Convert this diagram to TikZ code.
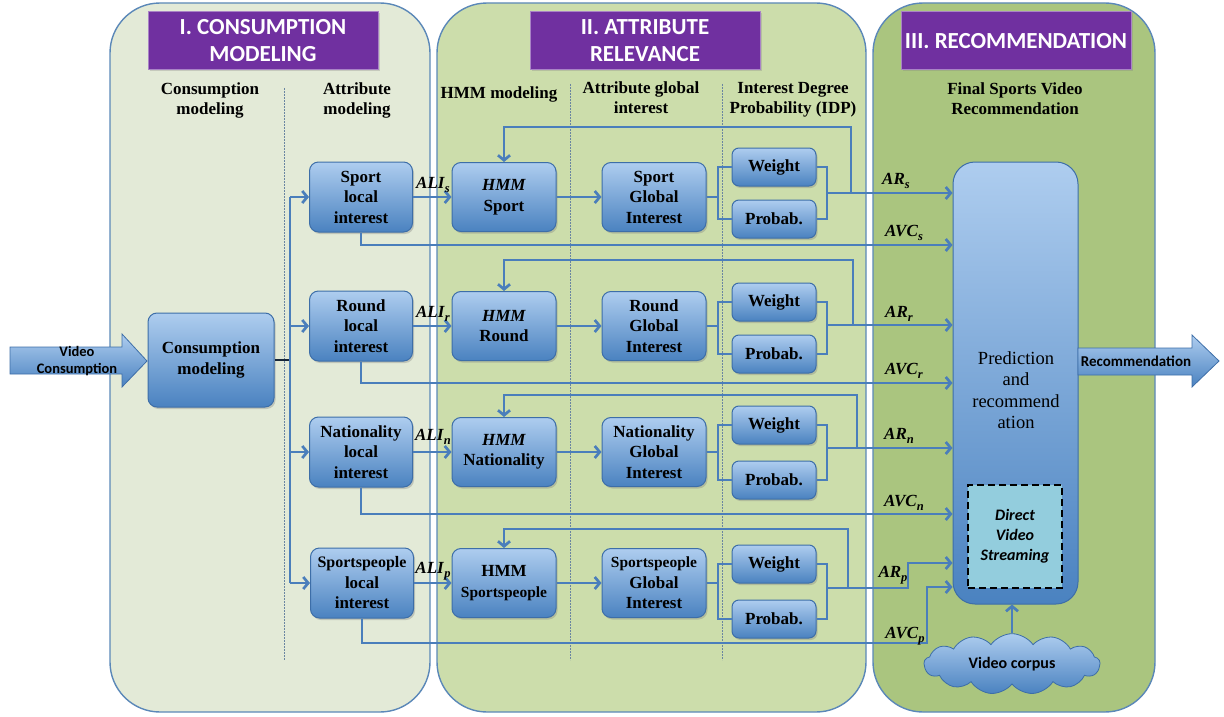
\documentclass[tikz,border=0pt]{standalone}
\usepackage{fontspec}
\setmainfont{Liberation Serif}
\newfontfamily\titlefont{Carlito}
\usetikzlibrary{arrows.meta,shapes.symbols,shadows,calc}
\definecolor{pI}{HTML}{E3EAD7}
\definecolor{pII}{HTML}{CCDDAB}
\definecolor{pIII}{HTML}{AAC57F}
\definecolor{pborder}{HTML}{5B88B8}
\definecolor{purp}{HTML}{7030A0}
\definecolor{conn}{HTML}{4A7EBB}
\definecolor{btop}{HTML}{AECDEF}
\definecolor{bbot}{HTML}{4A82C0}
\definecolor{bdraw}{HTML}{3D6EA8}
\definecolor{dvsfill}{HTML}{93CDDD}
\newcommand{\sublab}[2]{\textbf{\textit{#1}}\raisebox{-0.5ex}{\fontsize{12.5}{12.5}\selectfont\textbf{\textit{#2}}}}
\begin{document}
\begin{tikzpicture}[x=1pt,y=-1pt,
  panel/.style={draw=pborder,line width=1.4pt,rounded corners=50pt},
  title/.style={fill=purp,draw=purp!60!white,line width=1pt,text=white,
    font=\titlefont\bfseries\fontsize{23}{27}\selectfont,minimum width=230pt,
    minimum height=58pt,align=center,inner sep=0pt,
    drop shadow={shadow xshift=1.5pt,shadow yshift=-1.5pt,opacity=0.3}},
  hdr/.style={font=\bfseries\fontsize{17}{20}\selectfont,align=center},
  sep/.style={draw=pborder!60!gray,line width=0.7pt,dash pattern=on 2pt off 1pt},
  box/.style={rounded corners=9pt,draw=bdraw,line width=1pt,top color=btop,
    bottom color=bbot,align=center,inner sep=0pt,
    font=\bfseries\fontsize{17}{20.5}\selectfont,
    drop shadow={shadow xshift=1.5pt,shadow yshift=-2pt,opacity=0.35}},
  lbox/.style={box,minimum width=103pt,minimum height=70pt},
  hbox/.style={box,minimum width=104pt,minimum height=69pt},
  wbox/.style={box,minimum width=84pt,minimum height=38pt,rounded corners=7pt},
  line/.style={draw=conn,line width=2.7pt},
  arr/.style={line,-{Straight Barb[length=5pt,width=12pt]}},
  lab/.style={font=\fontsize{17}{17}\selectfont,inner sep=0pt},
  barrow/.style={draw=bdraw,line width=0.8pt,top color=btop,bottom color=bbot}
]
\useasboundingbox (0,0) rectangle (1224,717);
% panels
\draw[panel,fill=pI] (110,3) rectangle (430,712);
\draw[panel,fill=pII] (437,3) rectangle (866,712);
\draw[panel,fill=pIII] (873,3) rectangle (1155,712);
% titles
\node[title] (t1) at (263,41) {I. CONSUMPTION\\MODELING};
\node[title] (t2) at (645,41) {II. ATTRIBUTE\\RELEVANCE};
\node[title] (t3) at (1016,41) {III. RECOMMENDATION};
% headers
\node[hdr] (h1) at (210,100) {Consumption\\modeling};
\node[hdr] (h2) at (357,100) {Attribute\\modeling};
\node[hdr] (h3) at (499,94) {HMM modeling};
\node[hdr] (h4) at (641,98) {Attribute global\\interest};
\node[hdr] (h5) at (793,100) {Interest Degree\\Probability (IDP)};
\node[hdr] (h6) at (1015,99) {Final Sports Video\\Recommendation};
% separators
\draw[sep] (284,88) -- (284,660);
\draw[sep] (570,84) -- (570,660);
\draw[sep] (722,84) -- (722,660);
% input arrow
\draw[barrow] (10,347) -- (122,347) -- (122,334) -- (147,361) -- (122,387) -- (122,374) -- (10,374) -- cycle;
\node[font=\titlefont\bfseries\fontsize{14.5}{17.5}\selectfont,align=center] (vin) at (77,361) {Video\\Consumption};
% consumption modeling
\node[box,minimum width=126pt,minimum height=94pt] (cm) at (211,360) {Consumption\\modeling};
% local interest boxes
\node[lbox] (ls) at (361,197) {Sport\\local\\interest};
\node[lbox] (lr) at (361,326) {Round\\local\\interest};
\node[lbox] (ln) at (361,452) {Nationality\\local\\interest};
\node[lbox] (lp) at (362,583) {{\fontsize{16}{18}\selectfont Sportspeople}\\local\\interest};
% HMM boxes
\node[hbox] (hs) at (504,197) {\textit{HMM}\\Sport};
\node[hbox] (hr) at (504,326) {\textit{HMM}\\Round};
\node[hbox] (hn) at (504,452) {\textit{HMM}\\Nationality};
\node[hbox] (hp) at (504,583) {HMM\\{\fontsize{15.5}{17}\selectfont Sportspeople}};
% global boxes
\node[hbox] (gs) at (654,197) {Sport\\Global\\Interest};
\node[hbox] (gr) at (654,326) {Round\\Global\\Interest};
\node[hbox] (gn) at (654,452) {Nationality\\Global\\Interest};
\node[hbox] (gp) at (654,583) {{\fontsize{15.5}{17}\selectfont Sportspeople}\\Global\\Interest};
% weight / probab
\node[wbox] (ws) at (774,167) {Weight};
\node[wbox] (ps) at (774,219) {Probab.};
\node[wbox] (wr) at (774,302) {Weight};
\node[wbox] (pr2) at (774,354) {Probab.};
\node[wbox] (wn) at (774,425) {Weight};
\node[wbox] (pn) at (774,480) {Probab.};
\node[wbox] (wp) at (774,564) {Weight};
\node[wbox] (pp) at (774,619) {Probab.};
% prediction box
\node[rounded corners=22pt,draw=bdraw,line width=1pt,top color=btop,bottom color=bbot,
  minimum width=125pt,minimum height=442pt,inner sep=0pt] (pr) at (1015.5,383) {};
\node[font=\fontsize{18.5}{21.5}\selectfont,align=center] (prt) at (1016,390) {Prediction\\and\\recommend\\ation};
\node[fill=dvsfill,draw=black,line width=2pt,dash pattern=on 7pt off 4pt,
  minimum width=94pt,minimum height=103pt,align=center,
  font=\titlefont\bfseries\itshape\fontsize{16}{20}\selectfont] (dvs) at (1015,536) {Direct\\Video\\Streaming};
% video corpus
\node[cloud,cloud puffs=13,cloud puff arc=110,aspect=2.9,draw=bdraw,line width=0.8pt,
  top color=btop,bottom color=bbot,minimum width=176pt,minimum height=60pt,
  font=\titlefont\bfseries\fontsize{16}{18}\selectfont] (vc) at (1012,664) {Video corpus};
\draw[arr] (vc.north) -- (vc.north |- pr.south);
% output arrow
\draw[barrow] (1078,348) -- (1192,348) -- (1192,335) -- (1219,361) -- (1192,387) -- (1192,375) -- (1078,375) -- cycle;
\node[font=\titlefont\bfseries\fontsize{15}{17}\selectfont] (rec) at (1136,361) {Recommendation};
% bus
\coordinate (bt) at (290,197);
\coordinate (bb) at (290,583);
\draw[line,draw=black!70!conn] (cm.east) -- (cm.east -| bt);
\draw[line] (bt) -- (bb);
\draw[arr] (bt) -- (ls.west);
\draw[arr] (bt |- lr.west) -- (lr.west);
\draw[arr] (bt |- ln.west) -- (ln.west);
\draw[arr] (bb) -- (lp.west);
% rows
\foreach \r/\pn in {s/ps,r/pr2,n/pn,p/pp}{
  \draw[arr] (l\r.east) -- (h\r.west);
  \draw[arr] (h\r.east) -- (g\r.west);
  \draw[line] (g\r.east) -- (g\r.east -| 718,0);
  \draw[line] (w\r.west) -| (718,0 |- \pn.west) -- (\pn.west);
  \draw[line] (w\r.east) -| (827,0 |- \pn.east) -- (\pn.east);
}
\foreach \r/\yar/\ytop/\yavc/\xfb in {s/193/127/245/851,r/325/260/383/853,n/448/395/514/857}{
  \draw[arr] (827,\yar) -- (pr.west |- 0,\yar);
  \draw[arr] (\xfb,\yar) -- (\xfb,\ytop) -- (h\r.north |- 0,\ytop) -- (h\r.north);
  \draw[arr] (l\r.south) |- (pr.west |- 0,\yavc);
}
\draw[arr] (827,588) -- (908,588) -- (908,563) -- (pr.west |- 0,563);
\draw[arr] (848,588) -- (848,529) -- (hp.north |- 0,529) -- (hp.north);
\draw[arr] (lp.south) |- (927,643) -- (927,587) -- (pr.west |- 0,587);
% labels
\node[lab] (als) at (433,185) {\sublab{ALI}{s}};
\node[lab] (alr) at (433,314) {\sublab{ALI}{r}};
\node[lab] (aln) at (433,437) {\sublab{ALI}{n}};
\node[lab] (alp) at (433,571) {\sublab{ALI}{p}};
\node[lab] (ars) at (896,181) {\sublab{AR}{s}};
\node[lab] (avs) at (904,233) {\sublab{AVC}{s}};
\node[lab] (arr) at (899,314) {\sublab{AR}{r}};
\node[lab] (avr) at (904,371) {\sublab{AVC}{r}};
\node[lab] (arn) at (899,436) {\sublab{AR}{n}};
\node[lab] (avn) at (904,503) {\sublab{AVC}{n}};
\node[lab] (arp) at (893,575) {\sublab{AR}{p}};
\node[lab] (avp) at (905,636) {\sublab{AVC}{p}};
\end{tikzpicture}
\end{document}
